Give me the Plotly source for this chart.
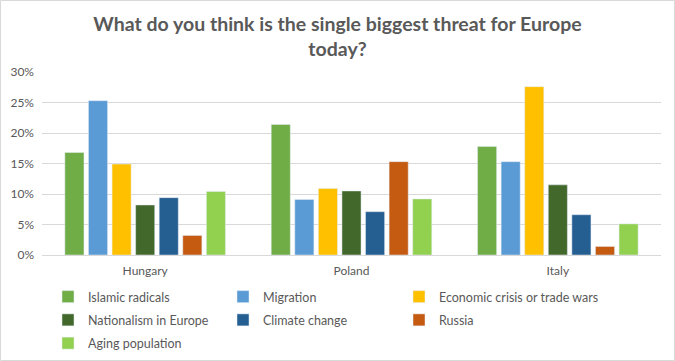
import plotly.graph_objects as go

countries = ["Hungary", "Poland", "Italy"]
series_names = ["Islamic radicals", "Migration", "Economic crisis or trade wars",
                "Nationalism in Europe", "Climate change", "Russia", "Aging population"]
islamic = [16.8, 21.4, 17.8]
migration = [25.3, 9.1, 15.3]
economic = [14.9, 10.9, 27.6]
nationalism = [8.2, 10.5, 11.5]
climate = [9.4, 7.1, 6.6]
russia = [3.2, 15.3, 1.4]
aging = [10.4, 9.2, 5.1]
tick_vals = [0, 5, 10, 15, 20, 25, 30]
tick_text = ["0%", "5%", "10%", "15%", "20%", "25%", "30%"]

values = [islamic, migration, economic, nationalism, climate, russia, aging]
colors = ["#70AD47", "#5B9BD5", "#FFC000", "#43682B", "#255E91", "#C55A11", "#92D050"]
legends = ["legend", "legend2", "legend3", "legend", "legend2", "legend3", "legend"]

FONT = "Lato"
GREY = "#595959"

fig = go.Figure()
for i, (name, vals, col, lg) in enumerate(zip(series_names, values, colors, legends)):
    fig.add_trace(go.Bar(name=name, x=countries, y=list(vals), marker_color=col,
                         legend=lg, legendgroup="g%d" % i,
                         hovertemplate="%{x}: %{y}%<extra>" + name + "</extra>"))

W, H = 675, 361
L, R, T, B = 42, 14, 72, 106
pw = W - L - R
ph = H - T - B


def px_x(x):
    return (x - L) / pw


def px_y(ytop):
    return (H - B - ytop) / ph


leg_top = 282
leg_common = dict(orientation="v", xanchor="left", yanchor="top", itemwidth=30,
                  font=dict(family=FONT, size=12.5, color=GREY), bgcolor="rgba(0,0,0,0)",
                  tracegroupgap=4)

fig.update_layout(
    width=W, height=H,
    margin=dict(l=L, r=R, t=T, b=B, autoexpand=False),
    paper_bgcolor="white", plot_bgcolor="white",
    barmode="group", bargap=0.2, bargroupgap=0.19,
    title=dict(text="What do you think is the single biggest threat for Europe<br>today?",
               x=0.5, xref="container", xanchor="center", y=1 - 31 / H, yanchor="top",
               font=dict(family=FONT, size=19.5, color=GREY, weight="bold")),
    font=dict(family=FONT, color=GREY, size=11),
    xaxis=dict(showgrid=False, showline=True, linecolor="#D9D9D9", linewidth=1,
               ticks="", ticklabelstandoff=5,
               tickfont=dict(family=FONT, size=12, color=GREY)),
    yaxis=dict(range=[0, 30], tickvals=tick_vals, ticktext=tick_text,
               showgrid=True, gridcolor="#D9D9D9", gridwidth=1, zeroline=False,
               showline=False, ticks="", ticklabelstandoff=7,
               tickfont=dict(family=FONT, size=12, color=GREY)),
    legend=dict(x=px_x(48), y=px_y(leg_top), **leg_common),
    legend2=dict(x=px_x(223), y=px_y(leg_top), **leg_common),
    legend3=dict(x=px_x(399), y=px_y(leg_top), **leg_common),
    showlegend=True,
    shapes=[dict(type="rect", xref="paper", yref="paper",
                 x0=px_x(0.5), x1=px_x(W - 0.5), y0=px_y(0.5), y1=px_y(H - 0.5),
                 line=dict(color="#D9D9D9", width=1), layer="below")],
)

fig.write_html("out.html", config={"displayModeBar": False},
               post_script="document.body.style.margin='0';")
